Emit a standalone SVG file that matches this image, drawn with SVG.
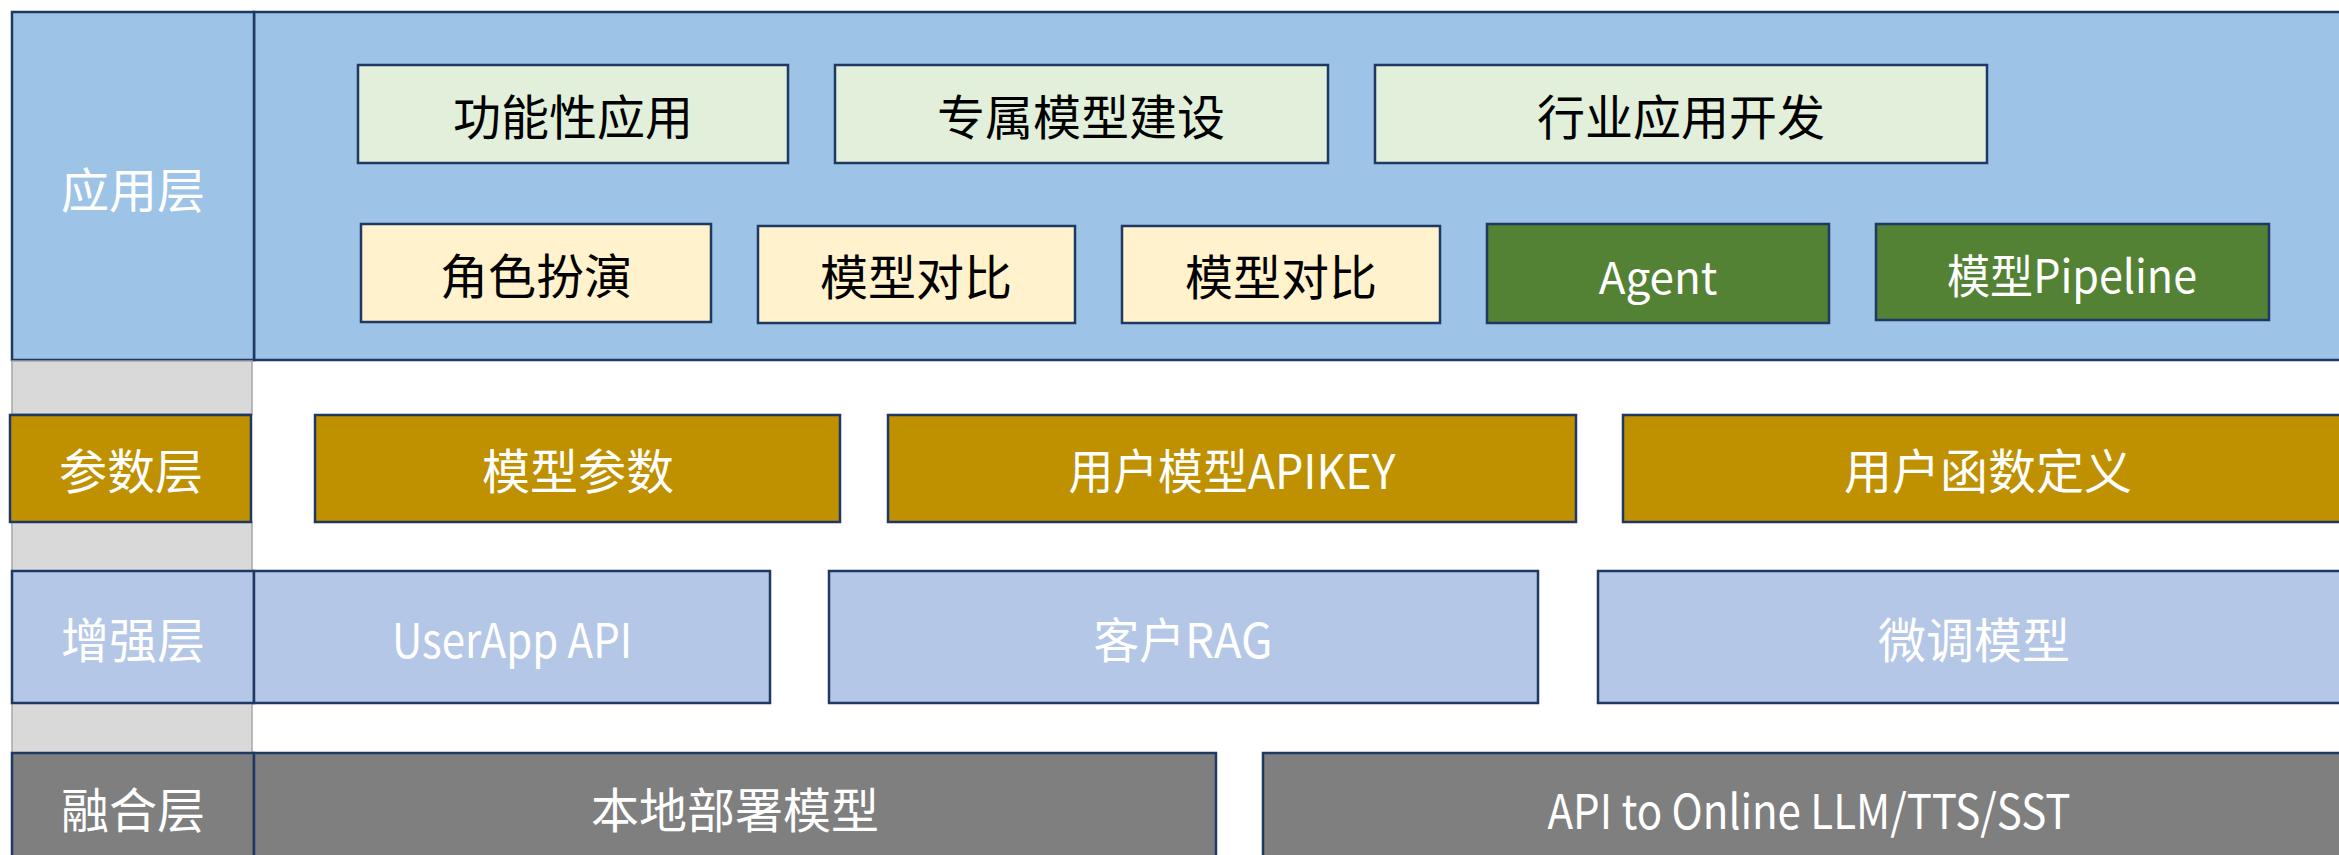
<svg xmlns="http://www.w3.org/2000/svg" width="2339" height="855" viewBox="0 0 2339 855">
<style>
rect{stroke:#1F3864;stroke-width:2.5}
text{font-family:"Noto Sans CJK SC","Noto Sans",sans-serif;font-size:48px;text-anchor:middle;dominant-baseline:central}
.w{fill:#FFFFFF}
.k{fill:#000000}
.app{fill:#9DC3E6}
.lg{fill:#E2EFDA}
.ly{fill:#FFF2CC}
.dg{fill:#548235}
.gold{fill:#BF9000}
.lb{fill:#B4C7E7}
.gr{fill:#7F7F7F}
.sp{fill:#D9D9D9;stroke:#A6A6A6;stroke-width:1.5}
</style>
<rect width="2339" height="855" fill="#FFFFFF" style="stroke:none"/>
<g id="layer-app">
<rect class="app" x="254" y="12" width="2100" height="348"/>
<rect class="app" x="12" y="12" width="242" height="348"/>
<text class="w" x="133" y="187">应用层</text>
</g>
<g id="spacer1"><rect class="sp" x="12" y="361" width="240" height="53"/></g>
<g id="spacer2"><rect class="sp" x="12" y="522" width="240" height="49"/></g>
<g id="spacer3"><rect class="sp" x="12" y="703" width="240" height="50"/></g>
<g id="n-gongneng"><rect class="lg" x="358" y="65" width="430" height="98"/><text class="k" x="573" y="114">功能性应用</text></g>
<g id="n-zhuanshu"><rect class="lg" x="835" y="65" width="493" height="98"/><text class="k" x="1081" y="114">专属模型建设</text></g>
<g id="n-hangye"><rect class="lg" x="1375" y="65" width="612" height="98"/><text class="k" x="1681" y="114">行业应用开发</text></g>
<g id="n-juese"><rect class="ly" x="361" y="224" width="350" height="98"/><text class="k" x="536" y="273">角色扮演</text></g>
<g id="n-duibi1"><rect class="ly" x="758" y="226" width="317" height="97"/><text class="k" x="916" y="274">模型对比</text></g>
<g id="n-duibi2"><rect class="ly" x="1122" y="226" width="318" height="97"/><text class="k" x="1281" y="274">模型对比</text></g>
<g id="n-agent"><rect class="dg" x="1487" y="224" width="342" height="99"/><text class="w" x="1658" y="275" style="font-size:44px">Agent</text></g>
<g id="n-pipeline"><rect class="dg" x="1876" y="224" width="393" height="96"/><text class="w" x="2072" y="273" style="font-size:46px" textLength="250" lengthAdjust="spacingAndGlyphs">模型Pipeline</text></g>
<g id="layer-param">
<rect class="gold" x="10" y="415" width="241" height="107"/>
<text class="w" x="131" y="468">参数层</text>
</g>
<g id="n-canshu"><rect class="gold" x="315" y="415" width="525" height="107"/><text class="w" x="578" y="468">模型参数</text></g>
<g id="n-apikey"><rect class="gold" x="888" y="415" width="688" height="107"/><text class="w" x="1232" y="468" textLength="327" lengthAdjust="spacingAndGlyphs">用户模型APIKEY</text></g>
<g id="n-hanshu"><rect class="gold" x="1623" y="415" width="730" height="107"/><text class="w" x="1988" y="468">用户函数定义</text></g>
<g id="layer-enhance">
<rect class="lb" x="12" y="571" width="242" height="132"/>
<text class="w" x="133" y="637">增强层</text>
</g>
<g id="n-userapp"><rect class="lb" x="254" y="571" width="516" height="132"/><text class="w" x="512" y="637" textLength="240" lengthAdjust="spacingAndGlyphs">UserApp API</text></g>
<g id="n-rag"><rect class="lb" x="829" y="571" width="709" height="132"/><text class="w" x="1183" y="637" textLength="179" lengthAdjust="spacingAndGlyphs">客户RAG</text></g>
<g id="n-weitiao"><rect class="lb" x="1598" y="571" width="752" height="132"/><text class="w" x="1974" y="637">微调模型</text></g>
<g id="layer-fusion">
<rect class="gr" x="12" y="753" width="242" height="120"/>
<text class="w" x="133" y="807">融合层</text>
</g>
<g id="n-local"><rect class="gr" x="254" y="753" width="962" height="120"/><text class="w" x="735" y="807">本地部署模型</text></g>
<g id="n-online"><rect class="gr" x="1263" y="753" width="1092" height="120"/><text class="w" x="1809" y="808" textLength="523" lengthAdjust="spacingAndGlyphs">API to Online LLM/TTS/SST</text></g>
<g id="connectors"/>
</svg>
